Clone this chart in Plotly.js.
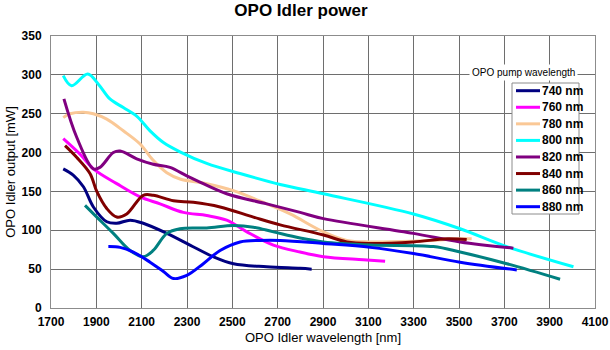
<!DOCTYPE html>
<html><head><meta charset="utf-8">
<script src="https://cdn.plot.ly/plotly-3.0.1.min.js"></script>
<style>html,body{margin:0;padding:0;background:#fff}#c{width:610px;height:350px}</style>
</head><body><div id="c"></div>
<script>
const seriesNames = ["740 nm","760 nm","780 nm","800 nm","820 nm","840 nm","860 nm","880 nm"];
const x740 = [1754,1798,1843,1887,1946,1990,2049,2107,2211,2313,2416,2505,2652,2799,2850];
const y740 = [179,171,156,130,111,109,113,109,96,81,66,57,53,51,50];
const x760 = [1754,1828,1887,1990,2093,2181,2284,2387,2475,2564,2681,2799,2902,3078,3174];
const y760 = [218,198,179,160,143,134,123,119,113,98,81,72,66,62,60];
const x780 = [1754,1784,1843,1887,1946,2019,2093,2151,2211,2269,2387,2505,2652,2755,2902,3005,3108,3299,3505,3556];
const y780 = [245,250,252,250,243,228,211,190,174,166,160,151,134,121,98,87,85,86,89,89];
const x800 = [1754,1791,1862,1909,1960,2019,2078,2137,2196,2269,2387,2534,2711,2902,3299,3505,3711,4005];
const y800 = [299,286,301,288,269,258,247,228,213,201,186,173,159,147,121,102,79,53];
const x820 = [1757,1813,1887,1916,1975,2005,2078,2151,2225,2299,2343,2475,2652,2799,2902,3299,3505,3740];
const y820 = [269,220,179,181,200,202,192,185,181,170,164,147,134,123,115,96,85,77];
const x840 = [1762,1813,1872,1902,1946,1990,2034,2107,2151,2240,2328,2446,2593,2711,2902,3005,3108,3299,3446,3534];
const y840 = [209,194,173,150,128,117,121,145,145,138,136,130,117,107,94,85,83,85,89,88];
const x860 = [1850,1902,1975,2049,2107,2151,2211,2269,2387,2505,2593,2681,2799,2902,3108,3387,3505,3711,3946];
const y860 = [132,117,96,74,66,74,96,102,103,106,104,98,90,85,81,79,72,57,37];
const x880 = [1953,2005,2063,2137,2196,2240,2299,2372,2446,2534,2622,2711,2902,3108,3299,3505,3755];
const y880 = [79,78,72,59,47,38,42,57,74,85,87,87,83,78,70,59,49];
const xTicks = [1700,1900,2100,2300,2500,2700,2900,3100,3300,3500,3700,3900,4100];
const yTicks = [0,50,100,150,200,250,300,350];
const legendTitle = "OPO pump wavelength";

const colors = ["#000080","#ff00ff","#fac896","#00ffff","#800080","#800000","#008080","#0000ff"];
const xs = [x740,x760,x780,x800,x820,x840,x860,x880];
const ys = [y740,y760,y780,y800,y820,y840,y860,y880];

const traces = seriesNames.map((n,i)=>({
  x: xs[i], y: ys[i], name: n, type: 'scatter', mode: 'lines',
  line: {color: colors[i], width: 3, shape: 'spline', smoothing: 1},
  showlegend: false
}));

const font = "Liberation Sans, Arial, sans-serif";

// custom legend (paper coordinates) to match the compact Excel-style legend
const L = 51, W = 544, B = 308, H = 272;
const px = v => (v - L) / W, py = v => (B - v) / H;
const shapes = [{
  type: 'rect', xref: 'paper', yref: 'paper', layer: 'above',
  x0: px(512), x1: px(579), y0: py(214), y1: py(83),
  fillcolor: '#fff', line: {color: '#8c8c8c', width: 1}
}];
const annotations = [{
  text: legendTitle, xref: 'paper', yref: 'paper',
  x: px(578), y: py(73), xanchor: 'right', yanchor: 'middle',
  showarrow: false, bgcolor: '#fff', borderpad: 2,
  font: {size: 10, family: font, color: '#000'}
}];
seriesNames.forEach((n,i)=>{
  const yy = 90.7 + i * 16.57;
  shapes.push({type: 'line', xref: 'paper', yref: 'paper', layer: 'above',
    x0: px(516), x1: px(540), y0: py(yy), y1: py(yy),
    line: {color: colors[i], width: 3}});
  annotations.push({text: '<b>' + n + '</b>', xref: 'paper', yref: 'paper',
    x: px(540), y: py(yy), xanchor: 'left', yanchor: 'middle', showarrow: false,
    font: {size: 12, family: font, color: '#000'}});
});

const layout = {
  width: 610, height: 350,
  margin: {l: 51, r: 15, t: 36, b: 42},
  paper_bgcolor: '#fff', plot_bgcolor: '#fff',
  font: {family: font, color: '#000', size: 12},
  title: {text: '<b>OPO Idler power</b>', font: {size: 17, family: font}, x: 0.4934, xref: 'container', xanchor: 'center', y: 0.971, yref: 'container', yanchor: 'middle'},
  xaxis: {
    range: [1700, 4100], tickvals: xTicks, ticktext: xTicks.map(v=>'<b>'+v+'</b>'),
    showgrid: true, gridcolor: '#6e6e6e', gridwidth: 1,
    showline: true, linecolor: '#8c8c8c', mirror: true, zeroline: false,
    ticks: '', tickfont: {size: 12}, ticklabelstandoff: 3,
    title: {text: 'OPO Idler wavelength [nm]', font: {size: 13}, standoff: 4},
    automargin: false
  },
  yaxis: {
    range: [0, 350], tickvals: yTicks, ticktext: yTicks.map(v=>'<b>'+v+'</b>'),
    showgrid: true, gridcolor: '#6e6e6e', gridwidth: 1,
    showline: true, linecolor: '#8c8c8c', mirror: true, zeroline: false,
    ticks: '', tickfont: {size: 12}, ticklabelstandoff: 6,
    title: {text: 'OPO Idler output [mW]', font: {size: 13}, standoff: 3},
    automargin: false
  },
  showlegend: false,
  shapes: shapes,
  annotations: annotations
};
Plotly.newPlot('c', traces, layout, {staticPlot: true});
</script></body></html>
